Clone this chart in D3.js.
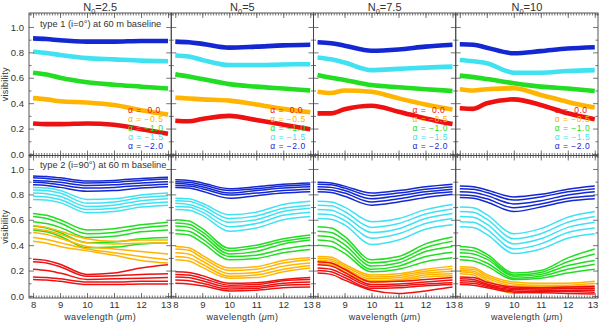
<!DOCTYPE html>
<html>
<head>
<meta charset="utf-8">
<script src="https://cdn.jsdelivr.net/npm/d3@7"></script>
<style>
  body { margin: 0; background: #fff; }
  text { font-family: "Liberation Sans", Arial, sans-serif; fill: #333; }
</style>
</head>
<body>
<div id="chart"></div>
<script>
// wavelength grid (micron) shared by every curve
const wavelengths = [8, 8.5, 9, 10, 11, 12, 13];
const n0Values = ["2.5", "5", "7.5", "10"];
const alphaLabels = ["α =  0.0", "α = −0.5", "α = −1.0", "α = −1.5", "α = −2.0"];
const xTicks = [8, 9, 10, 11, 12, 13];
const yTicks = [0, 0.2, 0.4, 0.6, 0.8, 1.0];

// type 1 (i=0), one curve per alpha: 0.0, -0.5, -1.0, -1.5, -2.0
const type1_N2_5 = [
  [0.24, 0.235, 0.235, 0.24, 0.23, 0.195, 0.16],
  [0.44, 0.43, 0.415, 0.405, 0.385, 0.345, 0.31],
  [0.64, 0.625, 0.60, 0.565, 0.545, 0.53, 0.515],
  [0.805, 0.795, 0.78, 0.755, 0.745, 0.735, 0.73],
  [0.91, 0.905, 0.895, 0.885, 0.885, 0.89, 0.89]
];
const type1_N5 = [
  [0.262, 0.258, 0.275, 0.30, 0.268, 0.23, 0.195],
  [0.443, 0.437, 0.43, 0.42, 0.39, 0.355, 0.328],
  [0.627, 0.61, 0.59, 0.55, 0.53, 0.515, 0.50],
  [0.775, 0.767, 0.74, 0.70, 0.70, 0.705, 0.707],
  [0.885, 0.88, 0.867, 0.837, 0.845, 0.855, 0.86]
];
const type1_N7_5 = [
  [0.32, 0.32, 0.352, 0.38, 0.333, 0.28, 0.236],
  [0.49, 0.48, 0.50, 0.49, 0.438, 0.39, 0.35],
  [0.622, 0.60, 0.583, 0.543, 0.525, 0.51, 0.496],
  [0.76, 0.745, 0.72, 0.66, 0.67, 0.68, 0.688],
  [0.88, 0.872, 0.853, 0.813, 0.823, 0.845, 0.86]
];
const type1_N10 = [
  [0.36, 0.355, 0.40, 0.43, 0.386, 0.32, 0.273],
  [0.51, 0.50, 0.51, 0.517, 0.465, 0.41, 0.365],
  [0.617, 0.605, 0.59, 0.557, 0.53, 0.515, 0.496],
  [0.74, 0.73, 0.715, 0.64, 0.64, 0.653, 0.66],
  [0.864, 0.86, 0.837, 0.793, 0.81, 0.83, 0.84]
];

// type 2 (i=90), five curves per alpha
const type2_N2_5 = [
  [[0.29, 0.28, 0.25, 0.17, 0.18, 0.22, 0.245],
   [0.27, 0.26, 0.23, 0.155, 0.16, 0.17, 0.175],
   [0.21, 0.20, 0.18, 0.13, 0.135, 0.14, 0.145],
   [0.15, 0.145, 0.135, 0.11, 0.11, 0.115, 0.115],
   [0.13, 0.125, 0.115, 0.09, 0.09, 0.095, 0.095]],
  [[0.555, 0.54, 0.51, 0.45, 0.43, 0.44, 0.44],
   [0.53, 0.515, 0.485, 0.42, 0.41, 0.415, 0.42],
   [0.50, 0.485, 0.455, 0.39, 0.37, 0.35, 0.33],
   [0.46, 0.445, 0.42, 0.37, 0.34, 0.31, 0.285],
   [0.43, 0.415, 0.39, 0.355, 0.32, 0.28, 0.26]],
  [[0.65, 0.635, 0.60, 0.52, 0.53, 0.56, 0.58],
   [0.625, 0.61, 0.575, 0.49, 0.50, 0.535, 0.555],
   [0.585, 0.57, 0.54, 0.46, 0.47, 0.505, 0.52],
   [0.55, 0.535, 0.50, 0.42, 0.425, 0.45, 0.46],
   [0.52, 0.505, 0.47, 0.38, 0.385, 0.41, 0.42]],
  [[0.855, 0.85, 0.83, 0.76, 0.765, 0.795, 0.81],
   [0.835, 0.83, 0.81, 0.73, 0.74, 0.775, 0.79],
   [0.81, 0.805, 0.785, 0.705, 0.715, 0.75, 0.765],
   [0.785, 0.78, 0.76, 0.68, 0.69, 0.725, 0.74],
   [0.76, 0.755, 0.735, 0.655, 0.665, 0.70, 0.715]],
  [[0.945, 0.94, 0.93, 0.905, 0.91, 0.925, 0.935],
   [0.93, 0.925, 0.915, 0.89, 0.895, 0.91, 0.92],
   [0.91, 0.905, 0.895, 0.87, 0.875, 0.89, 0.90],
   [0.895, 0.89, 0.875, 0.85, 0.855, 0.87, 0.88],
   [0.875, 0.87, 0.855, 0.825, 0.83, 0.85, 0.86]]
];
const type2_N5 = [
  [[0.19, 0.185, 0.16, 0.10, 0.105, 0.13, 0.145],
   [0.17, 0.165, 0.14, 0.085, 0.09, 0.12, 0.13],
   [0.15, 0.145, 0.12, 0.07, 0.075, 0.10, 0.11],
   [0.125, 0.12, 0.10, 0.055, 0.06, 0.085, 0.09],
   [0.10, 0.095, 0.08, 0.04, 0.045, 0.065, 0.07]],
  [[0.39, 0.38, 0.32, 0.22, 0.23, 0.28, 0.30],
   [0.37, 0.36, 0.30, 0.20, 0.21, 0.26, 0.285],
   [0.34, 0.33, 0.275, 0.175, 0.185, 0.235, 0.26],
   [0.31, 0.30, 0.25, 0.155, 0.165, 0.21, 0.24],
   [0.285, 0.275, 0.225, 0.14, 0.145, 0.19, 0.22]],
  [[0.60, 0.59, 0.53, 0.375, 0.40, 0.45, 0.48],
   [0.575, 0.565, 0.505, 0.355, 0.38, 0.43, 0.46],
   [0.55, 0.54, 0.48, 0.33, 0.35, 0.41, 0.44],
   [0.52, 0.51, 0.45, 0.31, 0.32, 0.37, 0.40],
   [0.49, 0.48, 0.42, 0.285, 0.295, 0.34, 0.365]],
  [[0.77, 0.765, 0.73, 0.64, 0.66, 0.72, 0.745],
   [0.75, 0.745, 0.71, 0.61, 0.63, 0.69, 0.715],
   [0.73, 0.72, 0.685, 0.58, 0.60, 0.665, 0.69],
   [0.705, 0.70, 0.66, 0.545, 0.57, 0.635, 0.66],
   [0.68, 0.675, 0.635, 0.51, 0.535, 0.60, 0.625]],
  [[0.915, 0.91, 0.89, 0.845, 0.86, 0.88, 0.89],
   [0.90, 0.895, 0.875, 0.83, 0.845, 0.865, 0.875],
   [0.885, 0.88, 0.86, 0.81, 0.83, 0.85, 0.86],
   [0.87, 0.865, 0.845, 0.795, 0.81, 0.83, 0.84],
   [0.855, 0.85, 0.825, 0.77, 0.79, 0.81, 0.82]]
];
const type2_N7_5 = [
  [[0.27, 0.26, 0.21, 0.11, 0.115, 0.13, 0.145],
   [0.245, 0.235, 0.185, 0.09, 0.095, 0.11, 0.125],
   [0.22, 0.21, 0.165, 0.075, 0.08, 0.095, 0.105],
   [0.20, 0.19, 0.145, 0.06, 0.065, 0.08, 0.09],
   [0.18, 0.17, 0.125, 0.045, 0.02, 0.04, 0.07]],
  [[0.31, 0.305, 0.25, 0.165, 0.175, 0.21, 0.235],
   [0.295, 0.29, 0.235, 0.15, 0.16, 0.195, 0.215],
   [0.28, 0.275, 0.22, 0.135, 0.145, 0.18, 0.195],
   [0.27, 0.26, 0.205, 0.12, 0.13, 0.165, 0.175],
   [0.255, 0.245, 0.19, 0.11, 0.12, 0.15, 0.16]],
  [[0.545, 0.535, 0.47, 0.285, 0.31, 0.41, 0.465],
   [0.51, 0.50, 0.44, 0.26, 0.285, 0.38, 0.43],
   [0.475, 0.465, 0.405, 0.235, 0.26, 0.35, 0.39],
   [0.44, 0.43, 0.37, 0.21, 0.235, 0.31, 0.345],
   [0.40, 0.39, 0.335, 0.19, 0.21, 0.27, 0.30]],
  [[0.745, 0.74, 0.70, 0.585, 0.61, 0.68, 0.72],
   [0.715, 0.71, 0.665, 0.54, 0.57, 0.645, 0.685],
   [0.68, 0.675, 0.63, 0.50, 0.53, 0.61, 0.65],
   [0.645, 0.64, 0.595, 0.455, 0.49, 0.57, 0.61],
   [0.61, 0.605, 0.56, 0.405, 0.44, 0.525, 0.56]],
  [[0.895, 0.89, 0.865, 0.81, 0.83, 0.86, 0.88],
   [0.88, 0.875, 0.85, 0.79, 0.81, 0.84, 0.86],
   [0.86, 0.855, 0.83, 0.765, 0.79, 0.82, 0.84],
   [0.84, 0.835, 0.81, 0.74, 0.765, 0.80, 0.82],
   [0.82, 0.815, 0.785, 0.715, 0.74, 0.775, 0.80]]
];
const type2_N10 = [
  [[0.15, 0.145, 0.11, 0.07, 0.065, 0.07, 0.075],
   [0.135, 0.13, 0.095, 0.06, 0.055, 0.06, 0.06],
   [0.12, 0.115, 0.085, 0.05, 0.045, 0.045, 0.045],
   [0.105, 0.10, 0.075, 0.04, 0.035, 0.035, 0.03],
   [0.09, 0.085, 0.065, 0.03, 0.025, 0.02, 0.015]],
  [[0.23, 0.225, 0.17, 0.11, 0.10, 0.10, 0.115],
   [0.215, 0.21, 0.155, 0.095, 0.085, 0.085, 0.10],
   [0.20, 0.195, 0.14, 0.08, 0.075, 0.075, 0.085],
   [0.19, 0.18, 0.125, 0.06, 0.06, 0.06, 0.07],
   [0.175, 0.165, 0.10, 0.02, 0.04, 0.045, 0.055]],
  [[0.39, 0.38, 0.33, 0.18, 0.20, 0.30, 0.37],
   [0.365, 0.355, 0.31, 0.165, 0.185, 0.27, 0.33],
   [0.34, 0.33, 0.29, 0.155, 0.17, 0.24, 0.28],
   [0.31, 0.30, 0.26, 0.14, 0.155, 0.21, 0.25],
   [0.285, 0.275, 0.235, 0.13, 0.14, 0.18, 0.21]],
  [[0.70, 0.695, 0.64, 0.49, 0.53, 0.62, 0.665],
   [0.665, 0.66, 0.605, 0.45, 0.49, 0.58, 0.625],
   [0.625, 0.62, 0.565, 0.41, 0.45, 0.54, 0.58],
   [0.585, 0.58, 0.525, 0.37, 0.41, 0.50, 0.535],
   [0.545, 0.54, 0.485, 0.335, 0.37, 0.455, 0.49]],
  [[0.865, 0.86, 0.835, 0.78, 0.80, 0.84, 0.865],
   [0.845, 0.84, 0.815, 0.755, 0.78, 0.82, 0.845],
   [0.82, 0.815, 0.79, 0.725, 0.75, 0.795, 0.82],
   [0.795, 0.79, 0.765, 0.695, 0.725, 0.77, 0.79],
   [0.775, 0.77, 0.74, 0.665, 0.70, 0.745, 0.765]]
];

const type1Panels = [type1_N2_5, type1_N5, type1_N7_5, type1_N10];
const type2Panels = [type2_N2_5, type2_N5, type2_N7_5, type2_N10];

// colour per alpha (0.0 ... -2.0)
const colors = ["#ee1111", "#ffb400", "#22dd22", "#40e2f2", "#1428d2"];

var width = 600, height = 322;
var left = 29, panelW = 142.25;
var rowTop = [13, 155.5], rowH = 142.5;

var svg = d3.select("#chart").append("svg")
  .attr("width", width)
  .attr("height", height);

var line = d3.line().curve(d3.curveMonotoneX);

function drawPanel(row, col, series) {
  var x0 = left + col * panelW;
  var y0 = rowTop[row];
  var x = d3.scaleLinear().domain([7.85, 13.12]).range([x0, x0 + panelW]);
  var y = d3.scaleLinear().domain([-0.012, 1.11]).range([y0 + rowH, y0]);
  if (row == 1) y.domain([-0.016, 1.106]);

  var g = svg.append("g");
  var clipId = "clip" + row + col;
  g.append("clipPath").attr("id", clipId)
    .append("rect").attr("x", x0).attr("y", y0).attr("width", panelW).attr("height", rowH);

  var lines = g.append("g").attr("clip-path", "url(#" + clipId + ")");
  line.x(function(d, i) { return x(wavelengths[i]); }).y(function(d) { return y(d); });

  // blue first, red last so red lies on top
  for (var a = series.length - 1; a >= 0; a--) {
    var curves = row == 0 ? [series[a]] : series[a];
    curves.forEach(function(c) {
      lines.append("path")
        .attr("d", line(c))
        .attr("fill", "none")
        .attr("stroke", colors[a])
        .attr("stroke-width", row == 0 ? 4.6 : 1.5)
        .attr("stroke-linejoin", "round");
    });
  }

  // axes, ticks pointing inward
  var minorX = d3.range(79, 132).map(function(v) { return v / 10; });
  var minorY = [0.1, 0.3, 0.5, 0.7, 0.9, 1.1];
  var ax = [
    [d3.axisBottom(x).tickValues(xTicks).tickSizeInner(-5).tickFormat(d3.format("d")), "translate(0," + (y0 + rowH) + ")", row == 1],
    [d3.axisBottom(x).tickValues(minorX).tickSizeInner(-2.5), "translate(0," + (y0 + rowH) + ")", false],
    [d3.axisTop(x).tickValues(xTicks).tickSizeInner(-5), "translate(0," + y0 + ")", false],
    [d3.axisTop(x).tickValues(minorX).tickSizeInner(-2.5), "translate(0," + y0 + ")", false],
    [d3.axisLeft(y).tickValues(yTicks).tickSizeInner(-5).tickFormat(d3.format(".1f")), "translate(" + x0 + ",0)", col == 0],
    [d3.axisLeft(y).tickValues(minorY).tickSizeInner(-2.5), "translate(" + x0 + ",0)", false],
    [d3.axisRight(y).tickValues(yTicks).tickSizeInner(-5), "translate(" + (x0 + panelW) + ",0)", false],
    [d3.axisRight(y).tickValues(minorY).tickSizeInner(-2.5), "translate(" + (x0 + panelW) + ",0)", false]
  ];
  ax.forEach(function(a, k) {
    var ag = g.append("g").attr("transform", a[1])
      .call(a[0].tickSizeOuter(0).tickPadding(k == 0 ? 3 : 5));
    ag.select(".domain").remove();
    ag.selectAll("line").attr("stroke", "#555").attr("stroke-width", 0.8);
    if (a[2]) ag.selectAll("text").attr("font-size", 9.5).attr("fill", "#333")
      .attr("font-family", "Liberation Sans, Arial, sans-serif");
    else ag.selectAll("text").remove();
  });
  // last wavelength label is pulled inside the panel, as in the original
  if (row == 1) {
    g.selectAll("text").filter(function(d) { return d === 13; })
      .attr("text-anchor", "end").attr("x", 3);
  }

  g.append("rect")
    .attr("x", x0).attr("y", y0).attr("width", panelW).attr("height", rowH)
    .attr("fill", "none").attr("stroke", "#444").attr("stroke-width", 0.9);

  // legend in every top panel
  if (row == 0) {
    alphaLabels.forEach(function(t, i) {
      g.append("text")
        .attr("x", x0 + 99).attr("y", 113 + i * 9)
        .attr("font-size", 8.5)
        .attr("letter-spacing", 0.5)
        .attr("xml:space", "preserve")
        .style("fill", colors[i])
        .text(t);
    });
  }

  if (row == 0) {
    var title = svg.append("text")
      .attr("x", x0 + panelW / 2).attr("y", 11)
      .attr("text-anchor", "middle")
      .attr("font-size", 11);
    title.append("tspan").text("N");
    title.append("tspan").attr("font-size", 7.5).attr("dy", 2.5).text("0");
    title.append("tspan").attr("dy", -2.5).text("=" + n0Values[col]);
  } else {
    var xl = svg.append("text")
      .attr("x", x0 + panelW / 2).attr("y", 320)
      .attr("text-anchor", "middle")
      .attr("font-size", 9)
      .attr("letter-spacing", 0.35);
    xl.append("tspan").text("wavelength (");
    xl.append("tspan").attr("font-style", "italic").text("μ");
    xl.append("tspan").text("m)");
  }
}

for (var r = 0; r < 2; r++) {
  for (var c = 0; c < 4; c++) {
    drawPanel(r, c, r == 0 ? type1Panels[c] : type2Panels[c]);
  }
}

svg.append("text").attr("x", 40).attr("y", 27).attr("font-size", 9.3)
  .text("type 1 (i=0°) at 60 m baseline");
svg.append("text").attr("x", 40).attr("y", 168).attr("font-size", 9.3)
  .text("type 2 (i=90°) at 60 m baseline");

[rowTop[0] + rowH / 2, rowTop[1] + rowH / 2].forEach(function(cy) {
  svg.append("text")
    .attr("transform", "translate(8," + cy + ") rotate(-90)")
    .attr("text-anchor", "middle")
    .attr("font-size", 9)
    .attr("letter-spacing", 0.3)
    .text("visibility");
});
</script>
</body>
</html>
